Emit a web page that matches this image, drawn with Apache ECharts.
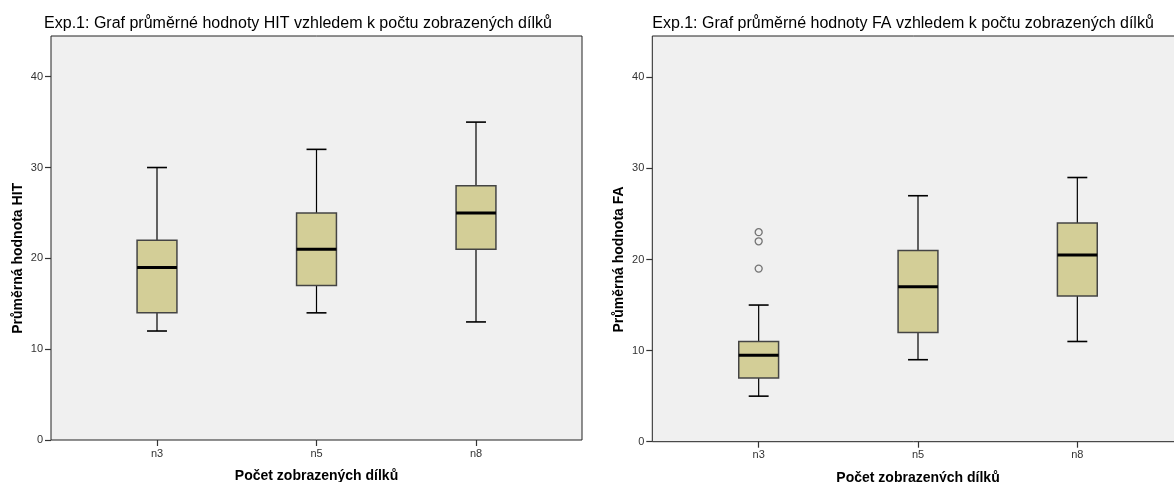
<!DOCTYPE html>
<html>
<head>
<meta charset="utf-8">
<script src="https://cdn.jsdelivr.net/npm/echarts@6/dist/echarts.min.js"></script>
<style>
html,body{margin:0;padding:0;background:#fff;}
#c{width:1174px;height:482px;}
</style>
</head>
<body>
<div id="c"></div>
<script>
// ---- data ----
const categories = ['n3', 'n5', 'n8'];
const hitMin = [12, 14, 13];
const hitQ1  = [14, 17, 21];
const hitMed = [19, 21, 25];
const hitQ3  = [22, 25, 28];
const hitMax = [30, 32, 35];

const faMin = [5, 9, 11];
const faQ1  = [7, 12, 16];
const faMed = [9.5, 17, 20.5];
const faQ3  = [11, 21, 24];
const faMax = [15, 27, 29];

const faOutlierCat = ['n3', 'n3', 'n3'];
const faOutlierVal = [19, 22, 23];

const titleHit = 'Exp.1: Graf průměrné hodnoty HIT vzhledem k počtu zobrazených dílků';
const titleFa = 'Exp.1: Graf průměrné hodnoty FA vzhledem k počtu zobrazených dílků';
const yNameHit = 'Průměrná hodnota HIT';
const yNameFa = 'Průměrná hodnota FA';
const xName = 'Počet zobrazených dílků';
const yMin = 0, yMax = 40, yStep = 10;

// ---- build ----
function boxData(mn, q1, md, q3, mx) {
  return categories.map((c, i) => [i, mn[i], q1[i], md[i], q3[i], mx[i]]);
}

const FONT = '"Liberation Sans", Arial, sans-serif';
const BOX_FILL = '#D3CE97';

function renderBox(params, api) {
  const i = api.value(0);
  const pMin = api.coord([i, api.value(1)]);
  const pQ1 = api.coord([i, api.value(2)]);
  const pMed = api.coord([i, api.value(3)]);
  const pQ3 = api.coord([i, api.value(4)]);
  const pMax = api.coord([i, api.value(5)]);
  const band = api.size([1, 0])[0];
  const bw = band * 0.25;
  const cw = bw / 2;
  const cx = pMed[0];
  const ln = (x1, y1, x2, y2, w) => ({
    type: 'line',
    shape: { x1, y1, x2, y2 },
    style: { stroke: '#000', lineWidth: w }
  });
  return {
    type: 'group',
    children: [
      ln(cx, pMin[1], cx, pQ1[1], 1.2),
      ln(cx, pQ3[1], cx, pMax[1], 1.2),
      ln(cx - cw / 2, pMin[1], cx + cw / 2, pMin[1], 1.6),
      ln(cx - cw / 2, pMax[1], cx + cw / 2, pMax[1], 1.6),
      {
        type: 'rect',
        shape: { x: cx - bw / 2, y: pQ3[1], width: bw, height: pQ1[1] - pQ3[1] },
        style: { fill: BOX_FILL, stroke: '#444', lineWidth: 1.5 }
      },
      ln(cx - bw / 2, pMed[1], cx + bw / 2, pMed[1], 3)
    ]
  };
}

function outerGrid(left, top, width, height) {
  return { left, top, width, height, show: true, backgroundColor: '#F0F0F0',
           borderColor: '#222', borderWidth: 1, containLabel: false, outerBoundsMode: 'none' };
}
function innerGrid(left, top, width, height) {
  return { left, top, width, height, containLabel: false, outerBoundsMode: 'none' };
}

const L = { oLeft: 51, oTop: 36, oRight: 582, oBottom: 440, iLeft: 77.25, iRight: 555.75, iTop: 76.7 };
const R = { oLeft: 652.3, oTop: 36, oRight: 1184, oBottom: 441.7, iLeft: 679, iRight: 1157, iTop: 77.3 };

function yAxisFor(gridIndex, name, offset) {
  return {
    gridIndex, type: 'value', min: yMin, max: yMax, interval: yStep,
    offset,
    name, nameLocation: 'middle', nameGap: 26,
    nameTextStyle: { fontFamily: FONT, fontWeight: 'bold', fontSize: 14, color: '#000' },
    axisLine: { show: false },
    axisTick: { show: true, length: 6, lineStyle: { color: '#333', width: 1.2 } },
    axisLabel: { fontFamily: FONT, fontSize: 11, color: '#333', margin: 8 },
    splitLine: { show: false }
  };
}
function xAxisFor(gridIndex) {
  return {
    gridIndex, type: 'category', data: categories, boundaryGap: true,
    name: xName, nameLocation: 'middle', nameGap: 29,
    nameTextStyle: { fontFamily: FONT, fontWeight: 'bold', fontSize: 14, color: '#000' },
    axisLine: { show: false },
    axisTick: { show: true, alignWithLabel: true, length: 6, lineStyle: { color: '#333', width: 1.2 } },
    axisLabel: { fontFamily: FONT, fontSize: 11, color: '#333', margin: 8 },
    splitLine: { show: false }
  };
}

const option = {
  backgroundColor: '#ffffff',
  animation: false,
  title: [
    { text: titleHit, left: 293, top: 11, textAlign: 'center',
      textStyle: { fontFamily: FONT, fontSize: 16, fontWeight: 'normal', color: '#000' } },
    { text: titleFa, left: 898, top: 11, textAlign: 'center',
      textStyle: { fontFamily: FONT, fontSize: 16, fontWeight: 'normal', color: '#000' } }
  ],
  grid: [
    outerGrid(L.oLeft, L.oTop, L.oRight - L.oLeft, L.oBottom - L.oTop),
    innerGrid(L.iLeft, L.iTop, L.iRight - L.iLeft, L.oBottom - L.iTop),
    outerGrid(R.oLeft, R.oTop, R.oRight - R.oLeft, R.oBottom - R.oTop),
    innerGrid(R.iLeft, R.iTop, R.iRight - R.iLeft, R.oBottom - R.iTop)
  ],
  xAxis: [
    { gridIndex: 0, type: 'value', show: false },
    xAxisFor(1),
    { gridIndex: 2, type: 'value', show: false },
    xAxisFor(3)
  ],
  yAxis: [
    { gridIndex: 0, type: 'value', show: false },
    yAxisFor(1, yNameHit, L.iLeft - L.oLeft),
    { gridIndex: 2, type: 'value', show: false },
    yAxisFor(3, yNameFa, R.iLeft - R.oLeft)
  ],
  series: [
    { type: 'custom', xAxisIndex: 1, yAxisIndex: 1, renderItem: renderBox,
      encode: { x: 0, y: [1, 2, 3, 4, 5] },
      data: boxData(hitMin, hitQ1, hitMed, hitQ3, hitMax) },
    { type: 'custom', xAxisIndex: 3, yAxisIndex: 3, renderItem: renderBox,
      encode: { x: 0, y: [1, 2, 3, 4, 5] },
      data: boxData(faMin, faQ1, faMed, faQ3, faMax) },
    { type: 'scatter', xAxisIndex: 3, yAxisIndex: 3, symbol: 'circle', symbolSize: 7,
      itemStyle: { color: 'rgba(0,0,0,0)', borderColor: '#555', borderWidth: 1.3 },
      data: faOutlierCat.map((c, i) => [c, faOutlierVal[i]]) }
  ]
};

const chart = echarts.init(document.getElementById('c'), null, { renderer: 'canvas' });
chart.setOption(option);
</script>
</body>
</html>
